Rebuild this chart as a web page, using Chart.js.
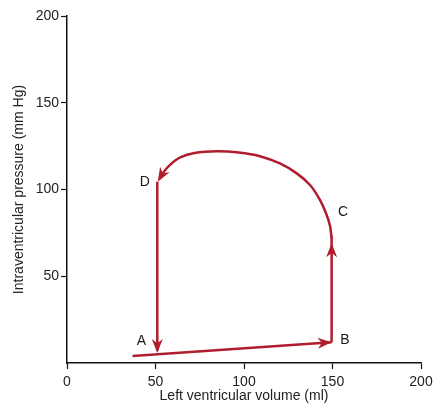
<!DOCTYPE html>
<html>
<head>
<meta charset="utf-8">
<script src="https://cdn.jsdelivr.net/npm/chart.js@4.4.0/dist/chart.umd.min.js"></script>
<style>
  html, body { margin: 0; padding: 0; background: #fff; }
  #wrap { width: 433px; height: 403px; }
</style>
</head>
<body>
<div id="wrap"><canvas id="loop"></canvas></div>
<script>
// filling: A -> B
var fillVol = [37, 149.5];
var fillPres = [4, 12];
// isovolumic contraction: B -> C
var contractVol = [149.5, 149.5];
var contractPres = [12, 73];
// ejection: C -> D
var ejectVol = [149.5, 148.6, 146.7, 142.9, 137.3, 129.8, 120.3, 109, 97, 84.6, 72, 64, 58.5, 54.5, 52.3];
var ejectPres = [72, 79, 85.3, 94, 102.6, 109.3, 115, 119.2, 121.3, 122, 121, 118.5, 114.5, 110, 106.3];
// isovolumic relaxation: D -> A
var relaxVol = [51, 51];
var relaxPres = [104.5, 7];

// arrowheads: [from volume, from pressure, tip volume, tip pressure]
var arrows = [
    [37, 4, 149.5, 12],
    [149.5, 12, 149.5, 69],
    [55, 111, 51.3, 104.5],
    [51, 104.5, 51, 5.8]
];

var pointNames = ['A', 'B', 'C', 'D'];
var nameVol = [42, 157, 156, 44];
var namePres = [12.5, 13, 87, 104];

var xTicks = [0, 50, 100, 150, 200];
var yTicks = [0, 50, 100, 150, 200];

var red = '#b01e2d';
var font = '"Liberation Sans", Arial, sans-serif';

function toPoints(xs, ys) {
    return xs.map(function (x, i) { return { x: x, y: ys[i] }; });
}

function seg(xs, ys, tension) {
    return {
        data: toPoints(xs, ys),
        showLine: true,
        borderColor: red,
        borderWidth: 2.5,
        pointRadius: 0,
        tension: tension || 0,
        fill: false
    };
}

// draws the arrowheads and the A-D labels
var decorations = {
    id: 'decorations',
    afterDatasetsDraw: function (chart) {
        var ctx = chart.ctx;
        var xs = chart.scales.x, ys = chart.scales.y;
        ctx.save();
        ctx.fillStyle = red;
        arrows.forEach(function (a) {
            var x0 = xs.getPixelForValue(a[0]), y0 = ys.getPixelForValue(a[1]);
            var x1 = xs.getPixelForValue(a[2]), y1 = ys.getPixelForValue(a[3]);
            var ang = Math.atan2(y1 - y0, x1 - x0);
            var len = 14, half = 5.5;
            ctx.save();
            ctx.translate(x1, y1);
            ctx.rotate(ang);
            ctx.beginPath();
            ctx.moveTo(0, 0);
            ctx.lineTo(-len, -half);
            ctx.lineTo(-len * 0.7, 0);
            ctx.lineTo(-len, half);
            ctx.closePath();
            ctx.fill();
            ctx.restore();
        });
        ctx.fillStyle = '#1a1a1a';
        ctx.font = '14px ' + font;
        ctx.textAlign = 'center';
        ctx.textBaseline = 'middle';
        pointNames.forEach(function (n, i) {
            ctx.fillText(n, xs.getPixelForValue(nameVol[i]), ys.getPixelForValue(namePres[i]));
        });
        ctx.restore();
    }
};

new Chart(document.getElementById('loop'), {
    type: 'scatter',
    data: {
        datasets: [
            seg(fillVol, fillPres),
            seg(contractVol, contractPres),
            seg(ejectVol, ejectPres, 0.3),
            seg(relaxVol, relaxPres)
        ]
    },
    options: {
        responsive: true,
        maintainAspectRatio: false,
        animation: false,
        layout: { padding: { top: 16, right: 12, left: 0, bottom: 0 } },
        plugins: {
            legend: { display: false },
            tooltip: { enabled: false }
        },
        scales: {
            x: {
                type: 'linear',
                min: 0,
                max: 200,
                afterBuildTicks: function (s) { s.ticks = xTicks.map(function (v) { return { value: v }; }); },
                afterFit: function (s) { s.height = 40; s.paddingLeft = 0; s.paddingRight = 0; },
                ticks: { color: '#222', font: { family: font, size: 14 }, padding: 5, maxRotation: 0 },
                grid: { drawOnChartArea: false, tickLength: 6, color: '#111', tickWidth: 1.2 },
                border: { color: '#111', width: 1.5 },
                title: { display: true, text: 'Left ventricular volume (ml)', color: '#222', font: { family: font, size: 14 }, padding: { top: 0, bottom: -2 } }
            },
            y: {
                type: 'linear',
                min: 0,
                max: 200,
                afterBuildTicks: function (s) { s.ticks = yTicks.map(function (v) { return { value: v }; }); },
                afterFit: function (s) { s.width = 67; },
                ticks: {
                    color: '#222',
                    font: { family: font, size: 14 },
                    padding: 2,
                    callback: function (v) { return v === 0 ? '' : v; }
                },
                grid: {
                    drawOnChartArea: false,
                    tickLength: 6,
                    tickWidth: 1.2,
                    color: function (c) { return c.tick && c.tick.value === 0 ? 'rgba(0,0,0,0)' : '#111'; }
                },
                border: { color: '#111', width: 1.5 },
                title: { display: true, text: 'Intraventricular pressure (mm Hg)', color: '#222', font: { family: font, size: 14 }, padding: { top: 11, bottom: 0 } }
            }
        }
    },
    plugins: [decorations]
});
</script>
</body>
</html>
